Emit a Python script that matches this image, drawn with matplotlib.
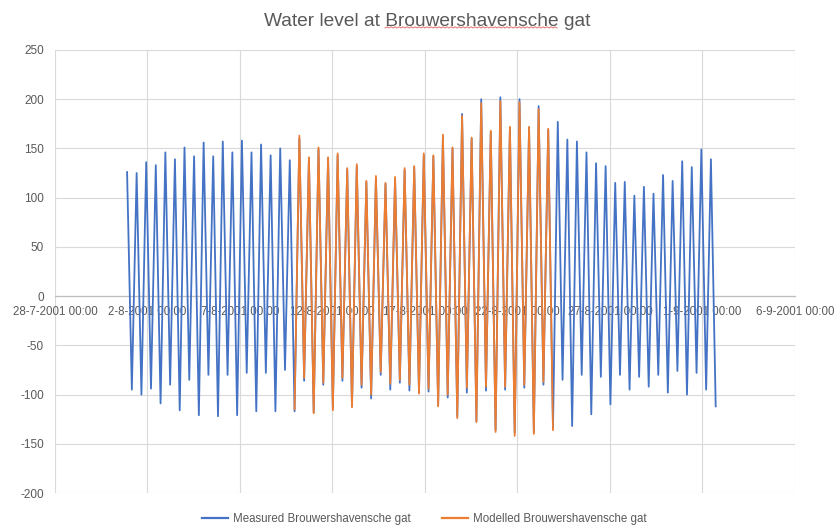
import matplotlib
matplotlib.use("Agg")
import matplotlib.pyplot as plt
import numpy as np
import pandas as pd
from matplotlib.lines import Line2D

plt.rcParams['font.family'] = ['Liberation Sans', 'DejaVu Sans']

# ---------------- data ----------------
title = "Water level at Brouwershavensche gat"
series_names = ["Measured Brouwershavensche gat", "Modelled Brouwershavensche gat"]

first_high = "2001-07-31 21:30"      # first measured high water
tide_period_min = 745                  # high waters are ~12h25m apart
high_to_low_min = 372                  # low water follows high water

measured_high = [126, 125, 136, 133, 146, 139, 151, 142, 156, 142,
                 157, 146, 158, 146, 154, 143, 150, 138,
                 160, 140, 149, 140, 143, 129, 132, 116, 120, 114,
                 119, 128, 131, 143, 142, 162, 150, 185, 160, 200,
                 167, 202, 171, 200, 171, 193, 169,
                 177, 159, 157, 146, 135, 132, 115, 116, 102, 111,
                 104, 123, 117, 137, 131, 149, 139]
measured_low = [-95, -100, -94, -109, -90, -116, -85, -121, -80, -122,
                -80, -121, -78, -117, -78, -117, -75, -117,
                -86, -118, -90, -114, -86, -112, -93, -104, -80, -95,
                -88, -96, -98, -97, -111, -103, -122, -98, -127, -96,
                -136, -95, -139, -93, -138, -90, -134,
                -85, -132, -80, -120, -82, -110, -80, -95, -82, -92,
                -80, -98, -76, -100, -78, -95, -112]

modelled_first_high_index = 18
modelled_start_low = -115
modelled_high = [163, 141, 151, 141, 145, 130, 134, 117, 122, 115,
                 121, 130, 132, 145, 143, 164, 151, 183, 161, 196,
                 168, 198, 172, 197, 172, 190, 170]
modelled_low = [-83, -119, -88, -116, -83, -113, -90, -100, -77, -89,
                -85, -90, -99, -94, -112, -100, -124, -93, -128, -92,
                -138, -92, -142, -90, -140, -87, -136]

x_start, x_end = "2001-07-28", "2001-09-06"
x_tick_step_days = 5
y_ticks = list(range(-200, 251, 50))

colors = ["#4472C4", "#ED7D31"]
text_color = "#595959"
grid_color = "#D9D9D9"

# ---------------- build series ----------------
highs_t = pd.date_range(first_high, periods=len(measured_high),
                        freq=f"{tide_period_min}min")
lows_t = highs_t + pd.Timedelta(minutes=high_to_low_min)

m_t, m_v = [], []
for th, tl, vh, vl in zip(highs_t, lows_t, measured_high, measured_low):
    m_t += [th, tl]
    m_v += [vh, vl]

k0 = modelled_first_high_index
o_t = [lows_t[k0 - 1]]
o_v = [modelled_start_low]
for j, (vh, vl) in enumerate(zip(modelled_high, modelled_low)):
    o_t += [highs_t[k0 + j], lows_t[k0 + j]]
    o_v += [vh, vl]

m_t = pd.DatetimeIndex(m_t).to_pydatetime()
o_t = pd.DatetimeIndex(o_t).to_pydatetime()

# ---------------- figure ----------------
fig = plt.figure(figsize=(8.34, 5.30), dpi=100)
ax = fig.add_axes([55 / 834, 1 - 493 / 530, (795 - 55) / 834, (493 - 50) / 530])

ax.plot(m_t, m_v, color=colors[0], lw=1.3, zorder=3)
ax.plot(o_t, o_v, color=colors[1], lw=1.3, zorder=4)

xt = pd.date_range(x_start, x_end, freq=f"{x_tick_step_days}D").to_pydatetime()
ax.set_xlim(xt[0], xt[-1])
ax.set_ylim(y_ticks[0], y_ticks[-1])
ax.set_xticks(xt)
ax.set_xticklabels([f"{d.day}-{d.month}-{d.year} 00:00" for d in xt])
ax.set_yticks(y_ticks)
ax.set_yticklabels([str(v) for v in y_ticks])

for s in ['top', 'right', 'left']:
    ax.spines[s].set_visible(False)
ax.spines['bottom'].set_position(('data', 0))
ax.spines['bottom'].set_color("#BFBFBF")
ax.spines['bottom'].set_linewidth(0.9)
ax.spines['bottom'].set_zorder(2)

ax.grid(True, color=grid_color, lw=0.8, zorder=0)
ax.set_axisbelow(True)
ax.tick_params(axis='y', length=0, pad=8, labelsize=8.5, labelcolor=text_color)
ax.tick_params(axis='x', length=0, pad=7, labelsize=8.3, labelcolor=text_color)

title_size = 13.8
t = fig.text(427 / 834, 1 - 21 / 530, title, ha='center', va='center',
             fontsize=title_size, color=text_color)

handles = [Line2D([], [], color=c, lw=1.6) for c in colors]
fig.legend(handles, series_names, loc='center', bbox_to_anchor=(424 / 834, 1 - 519 / 530),
           ncol=2, frameon=False, fontsize=8.3, labelcolor=text_color,
           handlelength=2.25, handletextpad=0.45, columnspacing=2.7)

# spell-check squiggle under the place name, as in the screenshot
fig.canvas.draw()
r = fig.canvas.get_renderer()
bb = t.get_window_extent(r)
def width(s):
    tmp = fig.text(0, 0, s, fontsize=title_size)
    w = tmp.get_window_extent(r).width
    tmp.remove()
    return w
word = "Brouwershavensche"
end = bb.x0 + width("Water level at " + word)
start = end - width(word)
xs = np.arange(start, end, 2.0)
ys = bb.y0 + 1.5 + np.where(np.arange(len(xs)) % 2 == 0, 0.0, 1.2)
inv = fig.transFigure.inverted()
pts = inv.transform(np.column_stack([xs, ys]))
fig.add_artist(Line2D(pts[:, 0], pts[:, 1], color="#E57373", lw=0.7,
                      transform=fig.transFigure))

fig.savefig("out.png", dpi=100)
